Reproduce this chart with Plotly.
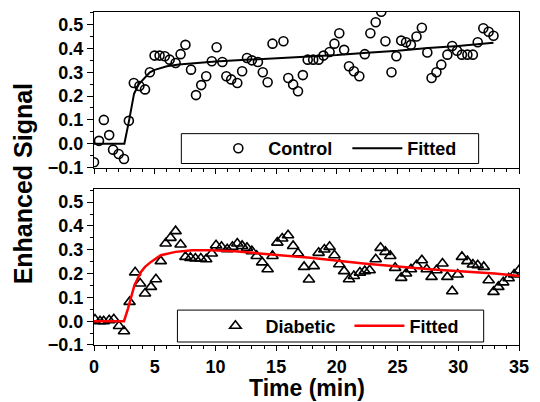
import plotly.graph_objects as go

# ---------------- data ----------------
ctrl_t = [0.0, 0.41, 0.81, 1.25, 1.57, 2.03, 2.47, 2.87, 3.28, 3.74, 4.2, 4.6, 4.99, 5.4, 5.83,
          6.23, 6.72, 7.13, 7.53, 7.99, 8.4, 8.83, 9.24, 9.7, 10.1, 10.57, 10.9, 11.3, 11.8, 12.2,
          12.6, 13.0, 13.5, 13.9, 14.3, 14.7, 15.6, 16.0, 16.4, 16.8, 17.2, 17.6, 18.05, 18.5, 18.9,
          19.4, 19.8, 20.2, 20.6, 21.0, 21.4, 21.85, 22.3, 22.76, 23.2, 23.66, 24.0, 24.5, 24.9, 25.3,
          25.7, 26.1, 26.56, 27.0, 27.45, 27.8, 28.2, 28.6, 29.1, 29.5, 29.9, 30.3, 30.75, 31.2, 31.6,
          32.06, 32.5, 32.9]
ctrl_y = [-0.078, 0.012, 0.10, 0.036, -0.025, -0.043, -0.064, 0.096, 0.255, 0.242, 0.228, 0.30, 0.37, 0.37, 0.367,
          0.353, 0.339, 0.376, 0.415, 0.311, 0.204, 0.246, 0.283, 0.346, 0.405, 0.343, 0.283, 0.27, 0.255, 0.304,
          0.36, 0.35, 0.343, 0.30, 0.258, 0.42, 0.43, 0.276, 0.249, 0.22, 0.288, 0.353, 0.353, 0.353, 0.37,
          0.385, 0.42, 0.464, 0.394, 0.325, 0.304, 0.283, 0.376, 0.464, 0.51, 0.554, 0.43, 0.30, 0.367, 0.433,
          0.426, 0.415, 0.45, 0.487, 0.383, 0.276, 0.30, 0.332, 0.374, 0.41, 0.39, 0.374, 0.374, 0.374, 0.426,
          0.485, 0.47, 0.453]

ctrl_fit_t = [0, 2.5, 2.9, 3.3, 3.7, 4.2, 4.6, 5.0, 5.5, 6.0, 7.0, 8.0, 10, 12.5, 15, 18, 20, 22.5,
              25, 27.5, 30, 32.9]
ctrl_fit_y = [0, 0, 0.10, 0.21, 0.25, 0.28, 0.30, 0.31, 0.318, 0.325, 0.333, 0.338, 0.345, 0.352, 0.358,
              0.366, 0.372, 0.382, 0.39, 0.402, 0.41, 0.424]

dia_t = [0.08, 0.5, 0.8, 1.25, 1.63, 2.06, 2.47, 2.93, 3.39, 3.8, 4.2, 4.69, 5.1, 5.5, 5.9,
         6.3, 6.72, 7.13, 7.53, 7.94, 8.35, 8.8, 9.24, 9.7, 10.05, 10.5, 10.97, 11.4, 11.8, 12.2,
         12.6, 13.0, 13.4, 13.85, 14.3, 14.7, 15.1, 15.5, 15.98, 16.4, 16.8, 17.3, 17.7, 18.1, 18.5,
         18.97, 19.4, 19.8, 20.2, 20.6, 21.0, 21.4, 21.9, 22.3, 22.7, 23.2, 23.6, 24.0, 24.4, 24.8,
         25.3, 25.7, 26.1, 26.56, 27.0, 27.4, 27.8, 28.2, 28.7, 29.1, 29.5, 29.95, 30.3, 30.75, 31.2,
         31.6, 32.1, 32.5, 32.9, 33.3, 33.7, 34.15, 34.6, 35.0]
dia_y = [0.007, 0.0, 0.0, 0.004, 0.008, -0.02, -0.042, 0.081, 0.205, 0.158, 0.116, 0.144, 0.176, 0.252, 0.326,
         0.35, 0.378, 0.322, 0.27, 0.266, 0.263, 0.263, 0.26, 0.284, 0.319, 0.312, 0.302, 0.312, 0.326, 0.316,
         0.308, 0.294, 0.274, 0.247, 0.218, 0.274, 0.33, 0.347, 0.361, 0.316, 0.285, 0.228, 0.175, 0.231, 0.287,
         0.301, 0.312, 0.277, 0.239, 0.21, 0.176, 0.19, 0.204, 0.21, 0.214, 0.26, 0.308, 0.291, 0.274, 0.224,
         0.182, 0.2, 0.218, 0.235, 0.256, 0.218, 0.186, 0.214, 0.242, 0.186, 0.126, 0.196, 0.27, 0.252, 0.238,
         0.235, 0.228, 0.172, 0.123, 0.144, 0.163, 0.18, 0.196, 0.214]

dia_fit_t = [0, 2.47, 2.8, 3.0, 3.33, 3.87, 4.2, 4.69, 5.5, 6.72, 8.07, 9.7, 11.6, 14.6, 17.8, 22.2,
             27.6, 33, 35]
dia_fit_y = [0, 0, 0.053, 0.09, 0.151, 0.207, 0.228, 0.249, 0.277, 0.291, 0.298, 0.298, 0.294, 0.28,
             0.266, 0.242, 0.218, 0.2, 0.19]

y_ticks = [-0.1, 0.0, 0.1, 0.2, 0.3, 0.4, 0.5]
x_ticks = [0, 5, 10, 15, 20, 25, 30, 35]

# ---------------- figure ----------------
FONT = "Liberation Sans, Arial, sans-serif"
tickfont = dict(family=FONT, size=18, color="black", weight="bold")
legfont = dict(family=FONT, size=18, color="black", weight="bold")

fig = go.Figure()
fig.add_trace(go.Scatter(x=ctrl_t, y=ctrl_y, mode="markers", name="Control",
                         marker=dict(symbol="circle-open", size=9, color="black", line=dict(width=1.6)),
                         xaxis="x", yaxis="y", legend="legend"))
fig.add_trace(go.Scatter(x=ctrl_fit_t, y=ctrl_fit_y, mode="lines", name="Fitted",
                         line=dict(color="black", width=2),
                         xaxis="x", yaxis="y", legend="legend"))
fig.add_trace(go.Scatter(x=dia_t, y=dia_y, mode="markers", name="Diabetic",
                         marker=dict(symbol="triangle-up-open", size=10, color="black", line=dict(width=1.6)),
                         xaxis="x2", yaxis="y2", legend="legend2"))
fig.add_trace(go.Scatter(x=dia_fit_t, y=dia_fit_y, mode="lines", name="Fitted",
                         line=dict(color="red", width=2.5),
                         xaxis="x2", yaxis="y2", legend="legend2"))

common_x = dict(range=[0, 35], tickvals=x_ticks, showline=True, linecolor="black", linewidth=1,
                mirror=True, ticks="outside", ticklen=5, tickwidth=1, tickcolor="black",
                minor=dict(ticks="outside", ticklen=3, dtick=1, tickcolor="black"),
                showgrid=False, zeroline=False, tickfont=tickfont)
common_y = dict(range=[-0.1, 0.553], tickvals=y_ticks, tickformat=".1f", showline=True,
                linecolor="black", linewidth=1, mirror=True, ticks="outside", ticklen=6,
                tickwidth=1, tickcolor="black",
                minor=dict(ticks="outside", ticklen=3, dtick=0.05, tick0=0, tickcolor="black"),
                showgrid=False, zeroline=False, tickfont=tickfont)

# legend frames (paper coordinates)
leg1_box = [0.2055, 0.545, 0.905, 0.6347]
leg2_box = [0.1963, 0.009, 0.9169, 0.1048]

fig.update_layout(
    width=540, height=402,
    margin=dict(l=94, r=13, t=11, b=57),
    paper_bgcolor="white", plot_bgcolor="white",
    hovermode=False,
    xaxis=dict(common_x, anchor="y", domain=[0, 1], showticklabels=False),
    yaxis=dict(common_y, anchor="x", domain=[0.533, 1]),
    xaxis2=dict(common_x, anchor="y2", domain=[0, 1]),
    yaxis2=dict(common_y, anchor="x2", domain=[0, 0.467]),
    legend=dict(orientation="h", x=leg1_box[0], y=(leg1_box[1] + leg1_box[3]) / 2,
                xanchor="left", yanchor="middle",
                borderwidth=0, bgcolor="rgba(0,0,0,0)", font=legfont,
                itemwidth=50, entrywidth=47, indentation=27),
    legend2=dict(orientation="h", x=leg2_box[0], y=(leg2_box[1] + leg2_box[3]) / 2,
                 xanchor="left", yanchor="middle",
                 borderwidth=0, bgcolor="rgba(0,0,0,0)", font=legfont,
                 itemwidth=50, entrywidth=51, indentation=28),
    shapes=[
        dict(type="rect", xref="paper", yref="paper", x0=leg1_box[0], y0=leg1_box[1],
             x1=leg1_box[2], y1=leg1_box[3], line=dict(color="black", width=1),
             fillcolor="white", layer="above"),
        dict(type="rect", xref="paper", yref="paper", x0=leg2_box[0], y0=leg2_box[1],
             x1=leg2_box[2], y1=leg2_box[3], line=dict(color="black", width=1),
             fillcolor="white", layer="above"),
    ],
    annotations=[
        dict(text="Enhanced Signal", xref="paper", yref="paper", x=-0.165, y=0.485,
             xanchor="center", yanchor="middle", textangle=-90, showarrow=False,
             font=dict(family=FONT, size=25, color="black", weight="bold")),
        dict(text="Time (min)", xref="paper", yref="paper", x=0.5, y=-0.129,
             xanchor="center", yanchor="middle", showarrow=False,
             font=dict(family=FONT, size=23, color="black", weight="bold")),
    ],
)

fig.write_html("out.html", config={"displayModeBar": False},
               post_script="document.body.style.margin='0px';")
